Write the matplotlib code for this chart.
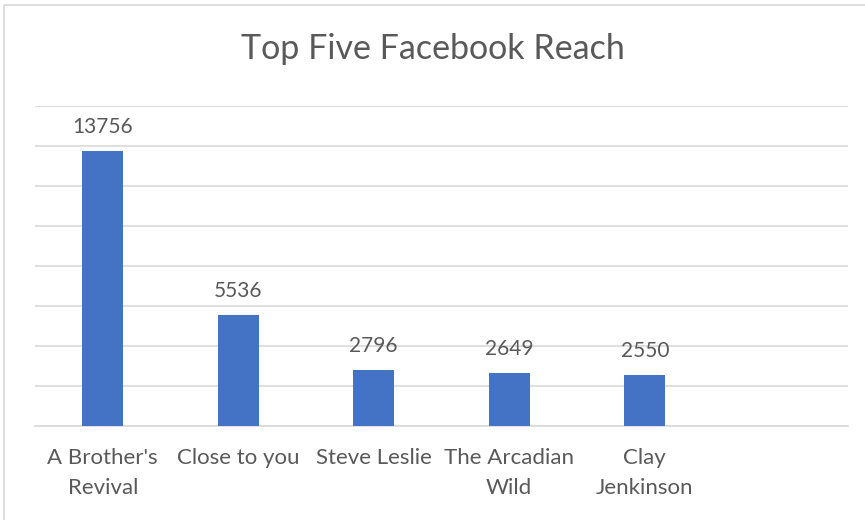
import matplotlib.pyplot as plt
from matplotlib.patches import Rectangle

plt.rcParams['font.family'] = ['Lato', 'DejaVu Sans']

# Datos del gráfico
categories = ["A Brother's\nRevival", "Close to you", "Steve Leslie",
              "The Arcadian\nWild", "Clay\nJenkinson", ""]
reach = [13756, 5536, 2796, 2649, 2550, None]
title = "Top Five Facebook Reach"

text_color = "#595959"
grid_color = "#d9d9d9"
bar_color = "#4472c4"

fig = plt.figure(figsize=(8.65, 5.2), dpi=100)
ax = fig.add_axes([35 / 865, 1 - 426 / 520, 813 / 865, 320 / 520])

# Borde exterior del gráfico
fig.patches.append(Rectangle((4 / 865, -0.1), 1.2, 1.1 - 5 / 520,
                             transform=fig.transFigure, fill=False,
                             edgecolor=grid_color, linewidth=1.2))

xs = list(range(len(categories)))
vals = [v if v is not None else 0 for v in reach]
bars = ax.bar(xs, vals, width=0.30, color=bar_color, zorder=3)

for x, v in zip(xs, reach):
    if v is not None:
        ax.annotate(str(v), (x, v), xytext=(0, 13), textcoords="offset points",
                    ha="center", va="baseline", fontsize=15, color=text_color)

ax.set_xlim(-0.5, len(categories) - 0.5)
ax.set_ylim(0, 16000)
ax.set_yticks(range(0, 16001, 2000))
ax.set_yticklabels([])
ax.tick_params(axis="y", length=0)
ax.grid(axis="y", color=grid_color, linewidth=1.2, zorder=0)

ax.set_xticks(xs)
ax.set_xticklabels(categories, fontsize=16, color=text_color, linespacing=1.6)
ax.tick_params(axis="x", length=0, pad=16)

for side in ["top", "right", "left"]:
    ax.spines[side].set_visible(False)
ax.spines["bottom"].set_color(grid_color)
ax.spines["bottom"].set_linewidth(1.2)

fig.text(0.5, 1 - 59 / 520, title, ha="center", va="baseline",
         fontsize=24.5, color=text_color)

fig.savefig("out.png", dpi=100)
